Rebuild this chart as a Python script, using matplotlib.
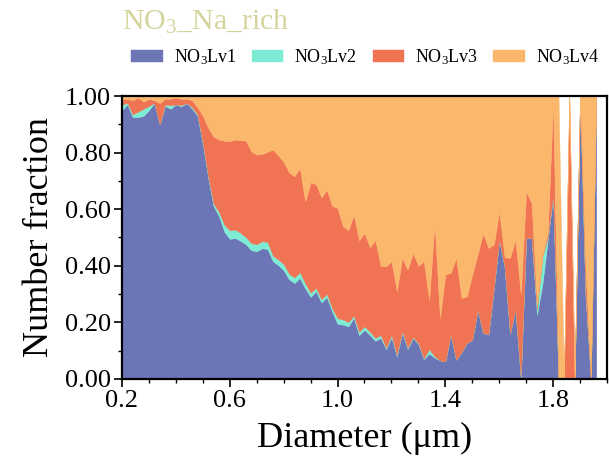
import numpy as np
import matplotlib
matplotlib.use("Agg")
import matplotlib.pyplot as plt
from matplotlib.ticker import FixedLocator, MultipleLocator, FormatStrFormatter

plt.rcParams["font.family"] = ["Liberation Serif", "DejaVu Serif"]
plt.rcParams["mathtext.fontset"] = "custom"
plt.rcParams["mathtext.rm"] = "Liberation Serif"
plt.rcParams["mathtext.it"] = "Liberation Serif:italic"

# Diameter bins (um), 0.02 step
diameter = np.round(np.arange(0.20, 1.9601, 0.02), 2)

# Number fraction of each class per bin
lv1 = [0.950, 0.970, 0.925, 0.925, 0.930, 0.950, 0.975, 0.900, 0.965, 0.955,
       0.970, 0.963, 0.975, 0.955, 0.930, 0.830, 0.710, 0.610, 0.575, 0.520,
       0.495, 0.498, 0.488, 0.476, 0.455, 0.451, 0.462, 0.459, 0.416, 0.402,
       0.384, 0.352, 0.339, 0.357, 0.320, 0.290, 0.310, 0.270, 0.289, 0.238,
       0.195, 0.192, 0.186, 0.216, 0.155, 0.174, 0.155, 0.135, 0.145, 0.105,
       0.147, 0.080, 0.163, 0.106, 0.145, 0.123, 0.070, 0.090, 0.075, 0.066,
       0.062, 0.157, 0.068, 0.095, 0.127, 0.139, 0.245, 0.163, 0.157, 0.320,
       0.492, 0.395, 0.160, 0.245, 0.005, 0.498, 0.498, 0.227, 0.333, 0.490,
       0.650, 0.000, 0.000, 0.000, 0.000, 1.000, 0.300, 0.000, 1.000]
lv2 = [0.020, 0.005, 0.010, 0.020, 0.025, 0.015, 0.000, 0.000, 0.005, 0.012,
       0.000, 0.005, 0.000, 0.005, 0.005, 0.005, 0.005, 0.010, 0.015, 0.025,
       0.030, 0.030, 0.028, 0.025, 0.025, 0.025, 0.025, 0.025, 0.020, 0.020,
       0.022, 0.020, 0.020, 0.020, 0.018, 0.015, 0.012, 0.012, 0.012, 0.012,
       0.020, 0.018, 0.015, 0.008, 0.012, 0.012, 0.012, 0.010, 0.010, 0.005,
       0.008, 0.005, 0.005, 0.005, 0.003, 0.003, 0.003, 0.015, 0.005, 0.000,
       0.000, 0.000, 0.000, 0.000, 0.000, 0.000, 0.000, 0.000, 0.000, 0.000,
       0.000, 0.000, 0.000, 0.000, 0.000, 0.000, 0.000, 0.020, 0.100, 0.010,
       0.000, 0.000, 0.000, 0.000, 0.000, 0.000, 0.000, 0.000, 0.000]
lv3 = [0.020, 0.015, 0.050, 0.050, 0.025, 0.025, 0.010, 0.075, 0.020, 0.023,
       0.025, 0.022, 0.015, 0.025, 0.025, 0.095, 0.172, 0.236, 0.256, 0.297,
       0.315, 0.318, 0.328, 0.341, 0.324, 0.317, 0.308, 0.319, 0.374, 0.368,
       0.361, 0.358, 0.357, 0.368, 0.290, 0.390, 0.366, 0.360, 0.368, 0.362,
       0.389, 0.330, 0.324, 0.356, 0.323, 0.330, 0.298, 0.345, 0.245, 0.288,
       0.261, 0.225, 0.260, 0.275, 0.297, 0.274, 0.343, 0.175, 0.471, 0.150,
       0.307, 0.218, 0.360, 0.191, 0.165, 0.231, 0.195, 0.352, 0.306, 0.155,
       0.100, 0.035, 0.268, 0.247, 0.295, 0.165, 0.124, 0.013, 0.000, 0.020,
       0.325, 0.000, 0.000, 1.000, 0.000, 0.000, 0.100, 0.000, 0.000]
lv4 = [0.010, 0.010, 0.015, 0.005, 0.020, 0.010, 0.015, 0.025, 0.010, 0.010,
       0.005, 0.010, 0.010, 0.015, 0.040, 0.070, 0.113, 0.144, 0.154, 0.158,
       0.160, 0.154, 0.156, 0.158, 0.196, 0.207, 0.205, 0.197, 0.190, 0.210,
       0.233, 0.270, 0.284, 0.255, 0.372, 0.305, 0.312, 0.358, 0.331, 0.388,
       0.396, 0.460, 0.475, 0.420, 0.510, 0.484, 0.535, 0.510, 0.600, 0.602,
       0.584, 0.690, 0.572, 0.614, 0.555, 0.600, 0.584, 0.720, 0.449, 0.784,
       0.631, 0.625, 0.572, 0.714, 0.708, 0.630, 0.560, 0.485, 0.537, 0.525,
       0.408, 0.570, 0.572, 0.508, 0.700, 0.337, 0.378, 0.740, 0.567, 0.480,
       0.025, 1.000, 0.000, 0.000, 0.000, 0.000, 0.600, 1.000, 0.000]

labels = [r"NO$_3$Lv1", r"NO$_3$Lv2", r"NO$_3$Lv3", r"NO$_3$Lv4"]
colors = ["#6c76b6", "#7eecd4", "#f07454", "#fbb86c"]
xticks = [0.2, 0.6, 1.0, 1.4, 1.8]

fig = plt.figure(figsize=(6.09, 4.62), dpi=100)
ax = fig.add_axes([0.2003, 0.1797, 0.7964, 0.6125])

polys = ax.stackplot(diameter, lv1, lv2, lv3, lv4, colors=colors,
                     labels=labels, linewidth=0.3)
for p, c in zip(polys, colors):
    p.set_edgecolor(c)

ax.set_xlim(0.2, 2.0)
ax.set_ylim(0, 1)
ax.xaxis.set_major_locator(FixedLocator(xticks))
ax.xaxis.set_minor_locator(MultipleLocator(0.1))
ax.yaxis.set_major_locator(MultipleLocator(0.2))
ax.yaxis.set_minor_locator(MultipleLocator(0.1))
ax.xaxis.set_major_formatter(FormatStrFormatter("%.1f"))
ax.yaxis.set_major_formatter(FormatStrFormatter("%.2f"))
ax.tick_params(which="major", direction="out", length=6, width=1.2,
               labelsize=19, pad=2)
ax.tick_params(which="minor", direction="out", length=3, width=1.0)
for s in ax.spines.values():
    s.set_linewidth(1.6)

ax.set_xlabel("Diameter (\u03bcm)", fontsize=26, labelpad=7)
ax.set_ylabel("Number fraction", fontsize=26, labelpad=6)

fig.text(0.2, 1 - 22 / 462, r"NO$_3$_Na_rich", fontsize=21.5,
         color="#d4d49c", ha="left", va="center")

fig.legend(loc="center", bbox_to_anchor=(0.6, 1 - 57 / 462), ncol=4,
           frameon=False, fontsize=13, handlelength=1.75, handleheight=0.7,
           handletextpad=0.6, columnspacing=0.85, borderaxespad=0)

fig.savefig("out.png", dpi=100)
